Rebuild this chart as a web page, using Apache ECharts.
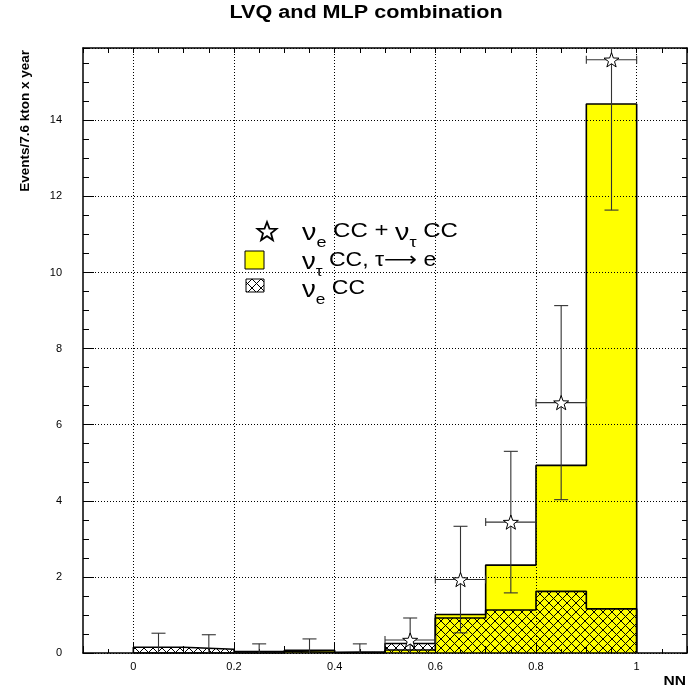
<!DOCTYPE html>
<html><head><meta charset="utf-8">
<script src="https://cdn.jsdelivr.net/npm/echarts@6/dist/echarts.min.js"></script>
<style>html,body{margin:0;padding:0;background:#fff}#c{width:688px;height:695px}</style>
</head><body><div id="c"></div>
<script>
// ---- data ----
const binEdges = [0, 0.1, 0.2, 0.3, 0.4, 0.5, 0.6, 0.7, 0.8, 0.9, 1.0];
const nuTauCC = [0, 0, 0, 0.07, 0, 0.08, 1.01, 2.31, 4.93, 14.43];                 // yellow: nu_tau CC, tau -> e
const nueCC = [0.15, 0.10, 0.04, 0.02, 0.03, 0.25, 0.92, 1.13, 1.62, 1.16];       // hatched: nu_e CC
const pointX = [0.05, 0.15, 0.25, 0.35, 0.45, 0.55, 0.65, 0.75, 0.85, 0.95];
const pointY = [0, 0, 0, 0, 0, 0.34, 1.93, 3.44, 6.58, 15.59];                    // stars: nu_e CC + nu_tau CC
const pointErr = [0.52, 0.48, 0.24, 0.37, 0.24, 0.58, 1.40, 1.86, 2.55, 3.95];
const pointHalfWidth = [0.05, 0.05, 0.05, 0.05, 0.05, 0.05, 0.05, 0.05, 0.05, 0.05];
const xTickValues = [0, 0.2, 0.4, 0.6, 0.8, 1];
const xTickLabels = ['0', '0.2', '0.4', '0.6', '0.8', '1'];
const xMin = -0.1, xMax = 1.1, yMin = 0, yMax = 15.9;

const F = '"Liberation Sans", "DejaVu Sans", Arial, sans-serif';

function hatchCanvas() {
  const c = document.createElement('canvas');
  c.width = 9; c.height = 9;
  const g = c.getContext('2d');
  g.strokeStyle = '#000'; g.lineWidth = 1;
  g.beginPath();
  g.moveTo(-1, -1); g.lineTo(10, 10);
  g.moveTo(-1, 10); g.lineTo(10, -1);
  g.stroke();
  return c;
}
const hatch = { image: hatchCanvas(), repeat: 'repeat' };

function stepPoints(vals) {
  const pts = [[binEdges[0], 0]];
  vals.forEach((v, i) => { pts.push([binEdges[i], v]); pts.push([binEdges[i + 1], v]); });
  pts.push([binEdges[binEdges.length - 1], 0]);
  return pts;
}

const starPath = 'path://M50 0 L61.76 33.82 L97.55 34.55 L69.02 56.18 L79.39 90.45 L50 70 L20.61 90.45 L30.98 56.18 L2.45 34.55 L38.24 33.82 Z';

function starPoints(cx, cy, R, r) {
  const pts = [];
  for (let k = 0; k < 10; k++) {
    const a = (-90 + k * 36) * Math.PI / 180;
    const rr = k % 2 === 0 ? R : r;
    pts.push([cx + rr * Math.cos(a), cy + rr * Math.sin(a)]);
  }
  return pts;
}

const chart = echarts.init(document.getElementById('c'), null, { renderer: 'canvas' });

const tickLine = { color: '#000', width: 1 };
const dotted = { color: '#000', width: 1, type: [1, 2] };

const richStyles = {
  n: { fontSize: 24, fontFamily: F, lineHeight: 20, verticalAlign: 'top', fill: '#000' },
  m: { fontSize: 20, fontFamily: F, lineHeight: 24, verticalAlign: 'top', fill: '#000' },
  s: { fontSize: 15, fontFamily: F, lineHeight: 14, padding: [14, 0, 0, 0], verticalAlign: 'top', fill: '#000' }
};

const option = {
  animation: false,
  backgroundColor: '#fff',
  grid: { left: 83, right: 1, top: 48, bottom: 42, containLabel: false },
  xAxis: [
    {
      type: 'value', min: xMin, max: xMax, position: 'bottom', z: 3,
      axisLine: { show: true, onZero: false, lineStyle: { color: '#000', width: 1.5 } },
      axisTick: { show: true, inside: true, length: 11, customValues: xTickValues, lineStyle: tickLine },
      axisLabel: {
        show: true, customValues: xTickValues, fontSize: 11, fontFamily: F, color: '#000', margin: 8,
        formatter: v => { const i = xTickValues.findIndex(t => Math.abs(t - v) < 1e-9); return i >= 0 ? xTickLabels[i] : ''; }
      },
      splitLine: { show: true, lineStyle: dotted }
    },
    {
      type: 'value', min: xMin, max: xMax, interval: 0.1, position: 'bottom', z: 3,
      axisLine: { show: false, onZero: false },
      axisTick: { show: true, inside: true, length: 7, lineStyle: tickLine },
      axisLabel: { show: false }, splitLine: { show: false }
    },
    {
      type: 'value', min: xMin, max: xMax, interval: 0.05, position: 'bottom', z: 3,
      axisLine: { show: false, onZero: false },
      axisTick: { show: true, inside: true, length: 4, lineStyle: tickLine },
      axisLabel: { show: false }, splitLine: { show: false }
    },
    {
      type: 'value', min: xMin, max: xMax, interval: 0.05, position: 'top', z: 3,
      axisLine: { show: true, onZero: false, lineStyle: { color: '#000', width: 1.5 } },
      axisTick: { show: true, inside: true, length: 5, lineStyle: tickLine },
      axisLabel: { show: false }, splitLine: { show: false }
    }
  ],
  yAxis: [
    {
      type: 'value', min: yMin, max: yMax, interval: 2, position: 'left', z: 3,
      axisLine: { show: true, onZero: false, lineStyle: { color: '#000', width: 1.5 } },
      axisTick: { show: true, inside: true, length: 11, lineStyle: tickLine },
      axisLabel: { show: true, fontSize: 11, fontFamily: F, color: '#000', margin: 21, showMaxLabel: false },
      splitLine: { show: true, lineStyle: dotted }
    },
    {
      type: 'value', min: yMin, max: yMax, interval: 0.5, position: 'left', z: 3,
      axisLine: { show: false, onZero: false },
      axisTick: { show: true, inside: true, length: 6, lineStyle: tickLine },
      axisLabel: { show: false }, splitLine: { show: false }
    },
    {
      type: 'value', min: yMin, max: yMax, interval: 0.5, position: 'right', z: 3,
      axisLine: { show: true, onZero: false, lineStyle: { color: '#000', width: 1.5 } },
      axisTick: { show: true, inside: true, length: 5, lineStyle: tickLine },
      axisLabel: { show: false }, splitLine: { show: false }
    }
  ],
  series: [
    {
      name: 'nu_tau CC', type: 'line', xAxisIndex: 0, yAxisIndex: 0, z: 1,
      data: stepPoints(nuTauCC), symbol: 'none', silent: true,
      lineStyle: { color: '#000', width: 1.6 },
      areaStyle: { color: '#ffff00', opacity: 1 }
    },
    {
      name: 'nu_e CC', type: 'line', xAxisIndex: 0, yAxisIndex: 0, z: 2,
      data: stepPoints(nueCC), symbol: 'none', silent: true,
      lineStyle: { color: '#000', width: 1.6 },
      areaStyle: { color: hatch, opacity: 1 }
    },
    {
      name: 'errors', type: 'custom', xAxisIndex: 0, yAxisIndex: 0, z: 4,
      data: pointX.map((x, i) => [x, pointY[i], pointErr[i], pointHalfWidth[i]]),
      encode: { x: 0, y: 1 },
      renderItem: function (params, api) {
        const x = api.value(0), y = api.value(1), e = api.value(2), hw = api.value(3);
        const hi = Math.min(y + e, yMax), lo = Math.max(y - e, yMin);
        const pT = api.coord([x, hi]), pB = api.coord([x, lo]);
        const st = { stroke: '#333', lineWidth: 1.1, fill: null };
        const ch = [{ type: 'line', shape: { x1: pT[0], y1: pT[1], x2: pB[0], y2: pB[1] }, style: st }];
        if (y + e <= yMax) ch.push({ type: 'line', shape: { x1: pT[0] - 7, y1: pT[1], x2: pT[0] + 7, y2: pT[1] }, style: st });
        if (y - e > yMin) ch.push({ type: 'line', shape: { x1: pB[0] - 7, y1: pB[1], x2: pB[0] + 7, y2: pB[1] }, style: st });
        if (y > yMin) {
          const pL = api.coord([x - hw, y]), pR = api.coord([x + hw, y]);
          ch.push({ type: 'line', shape: { x1: pL[0], y1: pL[1], x2: pR[0], y2: pR[1] }, style: st });
          ch.push({ type: 'line', shape: { x1: pL[0], y1: pL[1] - 4, x2: pL[0], y2: pL[1] + 4 }, style: st });
          ch.push({ type: 'line', shape: { x1: pR[0], y1: pR[1] - 4, x2: pR[0], y2: pR[1] + 4 }, style: st });
        }
        return { type: 'group', children: ch };
      }
    },
    {
      name: 'nu_e CC + nu_tau CC', type: 'scatter', xAxisIndex: 0, yAxisIndex: 0, z: 5,
      data: pointX.map((x, i) => [x, pointY[i]]).filter(p => p[1] > yMin),
      symbol: starPath, symbolSize: 15, symbolKeepAspect: true,
      itemStyle: { color: '#fff', borderColor: '#000', borderWidth: 1, opacity: 1 }
    }
  ],
  graphic: [
    { type: 'text', x: 366, y: 13, scaleX: 1.2, style: { text: 'LVQ and MLP combination', font: 'bold 18px ' + F, fill: '#000', align: 'center', verticalAlign: 'middle' } },
    { type: 'text', x: 25, y: 50, rotation: Math.PI / 2, style: { text: 'Events/7.6 kton x year', font: 'bold 13.5px ' + F, fill: '#000', align: 'right', verticalAlign: 'middle' } },
    { type: 'text', x: 686, y: 682, scaleX: 1.3, style: { text: 'NN', font: 'bold 12px ' + F, fill: '#000', align: 'right', verticalAlign: 'middle' } },
    { type: 'polygon', shape: { points: starPoints(267, 232, 10, 4.2) }, style: { fill: '#fff', stroke: '#000', lineWidth: 1.8 }, z: 10 },
    { type: 'rect', shape: { x: 245, y: 251, width: 19, height: 18 }, style: { fill: '#ffff00', stroke: '#000', lineWidth: 1 }, z: 10 },
    { type: 'rect', shape: { x: 246, y: 279, width: 18, height: 13 }, style: { fill: hatch, stroke: '#000', lineWidth: 1 }, z: 10 },
    { type: 'text', x: 302, y: 233, scaleX: 1.2, z: 10, style: { text: '{n|ν}{s|e}{m| CC + }{n|ν}{s|τ}{m| CC}', rich: richStyles, verticalAlign: 'middle', align: 'left' } },
    { type: 'text', x: 302, y: 262, scaleX: 1.15, z: 10, style: { text: '{n|ν}{s|τ}{m| CC, τ⟶ e}', rich: richStyles, verticalAlign: 'middle', align: 'left' } },
    { type: 'text', x: 302, y: 290, scaleX: 1.15, z: 10, style: { text: '{n|ν}{s|e}{m| CC}', rich: richStyles, verticalAlign: 'middle', align: 'left' } }
  ]
};
chart.setOption(option);
</script>
</body></html>
